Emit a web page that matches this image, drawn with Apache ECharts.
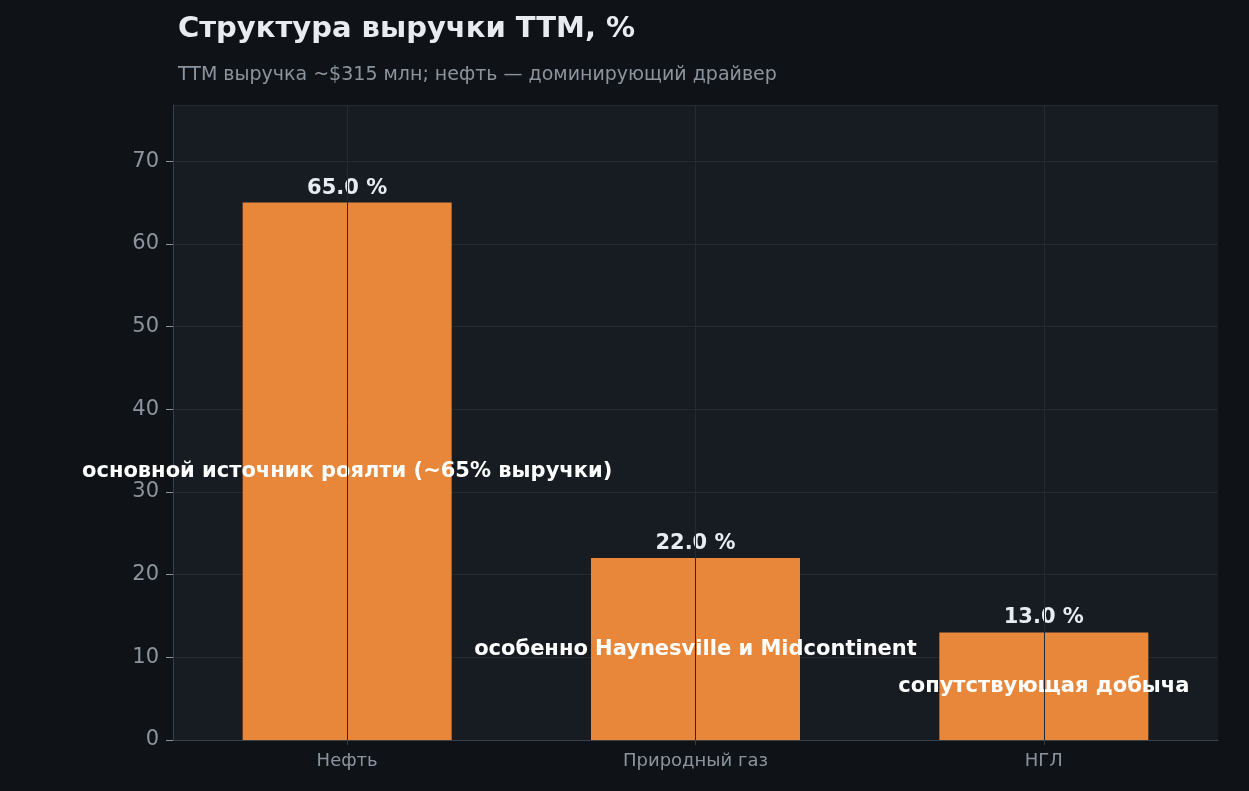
<!DOCTYPE html>
<html><head><meta charset="utf-8">
<script src="https://cdn.jsdelivr.net/npm/echarts@6/dist/echarts.min.js"></script>
<style>html,body{margin:0;background:#0f1317}#c{width:1249px;height:791px}</style>
</head><body><div id="c"></div>
<script>
const categories = ['Нефть', 'Природный газ', 'НГЛ'];
const values = [65.0, 22.0, 13.0];
const notes = ['основной источник роялти (~65% выручки)', 'особенно Haynesville и Midcontinent', 'сопутствующая добыча'];
const font = 'DejaVu Sans';
const chart = echarts.init(document.getElementById('c'));
chart.setOption({
  backgroundColor: '#0f1317',
  textStyle: {fontFamily: font},
  title: {
    text: 'Структура выручки TTM, %', left: 173, top: 10,
    textStyle: {color: '#e8ecf1', fontSize: 29, fontWeight: 'bold', fontFamily: font},
    subtext: 'TTM выручка ~$315 млн; нефть — доминирующий драйвер',
    subtextStyle: {color: '#8b949e', fontSize: 19, fontFamily: font}, itemGap: 22
  },
  grid: {left: 173, right: 31, top: 105, bottom: 51, backgroundColor: '#171b22', show: true, borderWidth: 0},
  xAxis: {
    type: 'category', data: categories,
    axisLine: {lineStyle: {color: '#3a4049'}},
    axisTick: {show: true, alignWithLabel: true, lineStyle: {color: '#3a4049'}},
    axisLabel: {color: '#8b949e', fontSize: 18, margin: 12}
  },
  yAxis: {
    type: 'value', min: 0, max: 76.8, interval: 10,
    axisLine: {show: true, lineStyle: {color: '#3a4049'}},
    axisTick: {show: true, length: 7, lineStyle: {color: '#8b949e'}},
    axisLabel: {color: '#8b949e', fontSize: 21, margin: 14, showMaxLabel: false},
    splitLine: {lineStyle: {color: '#242a33'}}
  },
  series: [{
    type: 'bar', data: values, barWidth: '60%', z: 2,
    itemStyle: {color: '#e8873a'},
    label: {show: true, position: 'top', color: '#e8ecf1', fontSize: 21, fontWeight: 'bold',
      formatter: p => p.value.toFixed(1) + ' %', distance: 4},
    markLine: {silent: true, symbol: 'none', label: {show: false},
      lineStyle: {color: '#242a33', type: 'solid', width: 1},
      data: categories.map(c => ({xAxis: c}))}
  }, {
    type: 'bar', data: values, barWidth: '60%', barGap: '-100%', z: 3,
    itemStyle: {color: 'rgba(0,0,0,0)'},
    label: {show: true, position: 'inside', color: '#ffffff', fontSize: 21, fontWeight: 'bold',
      formatter: p => notes[p.dataIndex]}
  }]
});
</script></body></html>
